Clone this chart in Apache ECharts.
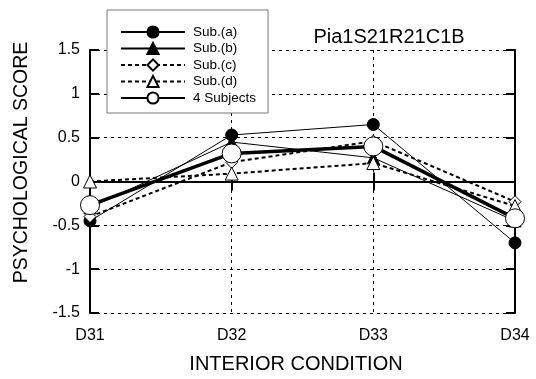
<!DOCTYPE html>
<html><head><meta charset="utf-8">
<script src="https://cdn.jsdelivr.net/npm/echarts@6/dist/echarts.min.js"></script>
<style>html,body{margin:0;padding:0;background:#fff}#c{width:536px;height:379px}</style>
</head><body><div id="c"></div>
<script>
const categories = ['D31', 'D32', 'D33', 'D34'];
const subA = [-0.45, 0.53, 0.65, -0.70];
const subB = [-0.30, 0.45, 0.27, -0.45];
const subC = [-0.40, 0.22, 0.46, -0.23];
const subD = [0.00, 0.09, 0.21, -0.28];
const allSubjects = [-0.27, 0.32, 0.40, -0.42];
const seriesNames = ['Sub.(a)', 'Sub.(b)', 'Sub.(c)', 'Sub.(d)', '4 Subjects'];
const titleText = 'Pia1S21R21C1B';

const FONT = '"Liberation Sans", Arial, sans-serif';
const chart = echarts.init(document.getElementById('c'), null, {renderer: 'canvas'});

function mk(name, data, symbol, size, fill, width, dashed, z) {
  return {
    name, type: 'line', data, symbol, symbolSize: size, z,
    showSymbol: true, animation: false,
    lineStyle: {color: '#000', width, type: dashed ? [4, 3] : 'solid'},
    itemStyle: {color: fill, borderColor: '#000', borderWidth: 1},
    emphasis: {disabled: true}
  };
}

const yCommon = {
  type: 'value', min: -1.5, max: 1.5, interval: 0.5,
  axisLine: {show: true, lineStyle: {color: '#000', width: 2}},
  axisTick: {show: true, inside: true, length: 9, lineStyle: {color: '#000', width: 2}},
};

chart.setOption({
  animation: false,
  textStyle: {fontFamily: FONT},
  title: {
    text: titleText, left: 384, top: 22, textAlign: 'center',
    textStyle: {fontFamily: FONT, fontSize: 20, fontWeight: 'normal', color: '#000'}
  },
  legend: {
    orient: 'vertical', left: 107, top: 10,
    data: seriesNames,
    itemWidth: 64, itemHeight: 14, itemGap: 2.5,
    padding: [15, 12, 8, 13],
    borderColor: '#777', borderWidth: 1, backgroundColor: '#fff',
    textStyle: {fontFamily: FONT, fontSize: 13.5, color: '#000', padding: [0, 0, 0, 3]},
    z: 20
  },
  grid: {left: 90, right: 21, top: 50, bottom: 63},
  xAxis: [{
    type: 'category', data: categories, boundaryGap: false,
    axisLine: {show: true, lineStyle: {color: '#000', width: 2}},
    axisTick: {show: true, inside: true, length: 9, lineStyle: {color: '#000', width: 2}},
    axisLabel: {fontFamily: FONT, fontSize: 16, color: '#000', margin: 15},
    splitLine: {show: true, lineStyle: {color: '#000', width: 1, type: [3, 4]}},
    name: 'INTERIOR CONDITION', nameLocation: 'middle', nameGap: 41,
    nameTextStyle: {fontFamily: FONT, fontSize: 20, color: '#000', padding: [0, 13, 0, 0]}
  }, {
    type: 'category', data: categories, boundaryGap: false, position: 'top',
    axisLine: {show: true, lineStyle: {color: '#000', width: 2}},
    axisTick: {show: true, inside: true, length: 9, lineStyle: {color: '#000', width: 2}},
    axisLabel: {show: false}, splitLine: {show: false}
  }],
  yAxis: [Object.assign({}, yCommon, {
    position: 'left',
    axisLabel: {fontFamily: FONT, fontSize: 16, color: '#000', margin: 10},
    splitLine: {show: true, lineStyle: {color: '#000', width: 1, type: [3, 4]}},
    name: 'PSYCHOLOGICAL SCORE', nameLocation: 'middle', nameGap: 58,
    nameTextStyle: {fontFamily: FONT, fontSize: 19.5, color: '#000', padding: [0, 0, 0, 38]}
  }), Object.assign({}, yCommon, {
    position: 'right', axisLabel: {show: false}, splitLine: {show: false}
  })],
  series: [
    mk(seriesNames[0], subA, 'circle', 12, '#000', 1, false, 3),
    mk(seriesNames[1], subB, 'triangle', 12, '#000', 1, false, 3),
    mk(seriesNames[2], subC, 'diamond', 12, '#fff', 2, true, 4),
    mk(seriesNames[3], subD, 'triangle', 13, '#fff', 2, true, 4),
    mk(seriesNames[4], allSubjects, 'circle', 19, '#fff', 3.5, false, 5)
  ]
});
</script></body></html>
